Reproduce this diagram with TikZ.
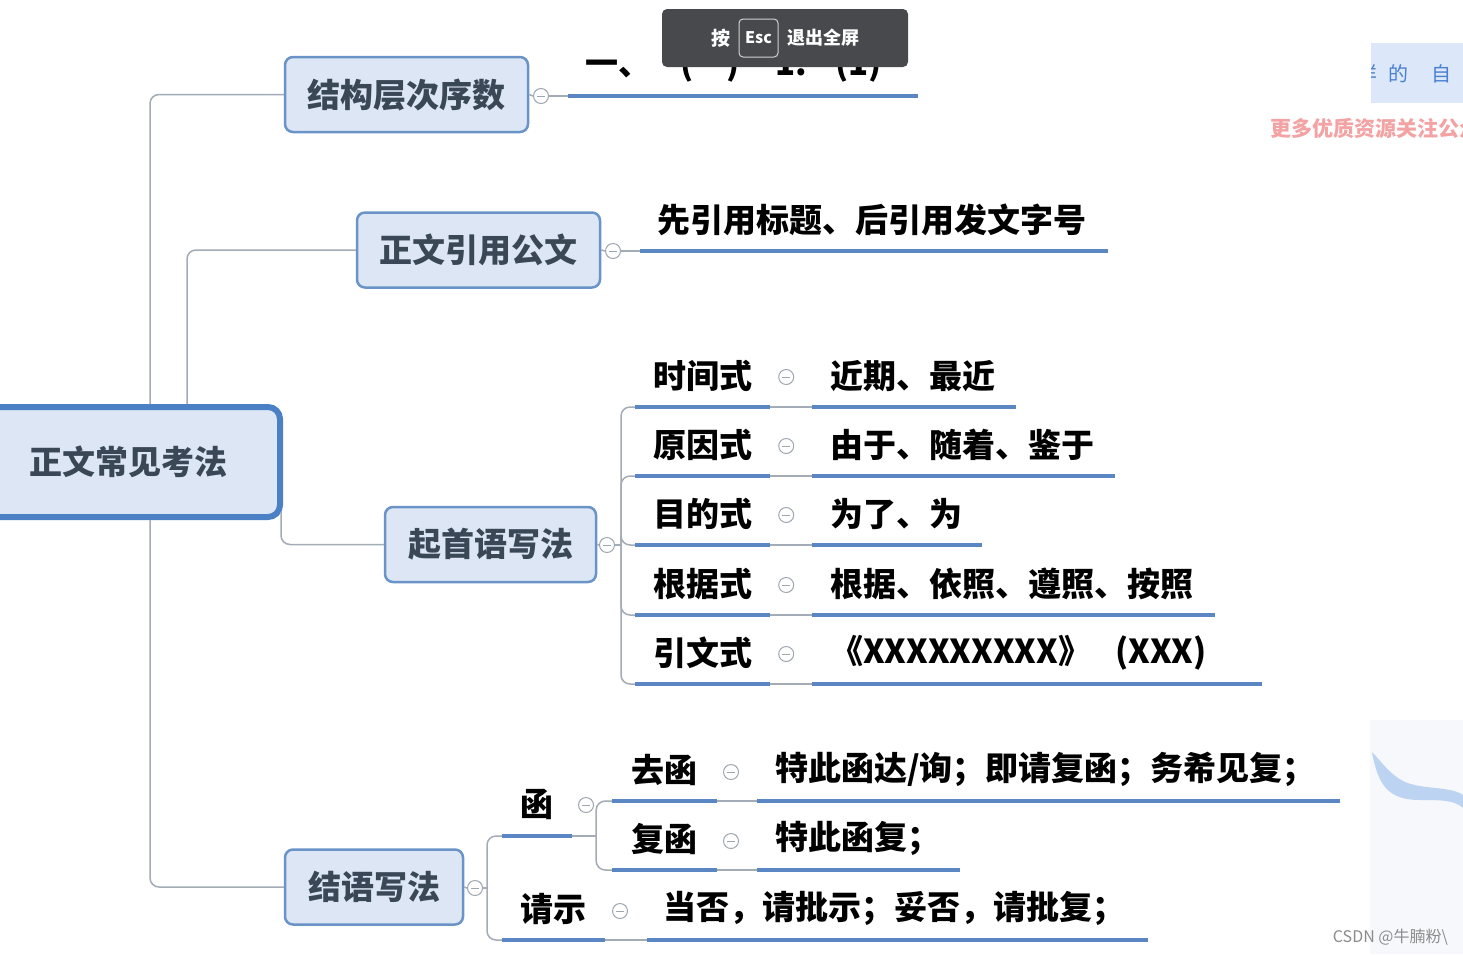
\documentclass[tikz,border=0pt]{standalone}
\usepackage{fontspec}
\setmainfont{Noto Sans CJK SC}
\newcommand\fsz[1]{\fontsize{#1}{#1}\selectfont}
\definecolor{boxfill}{HTML}{DCE6F4}
\definecolor{boxline}{HTML}{6A94C8}
\definecolor{rootline}{HTML}{4C80C4}
\definecolor{boxtext}{HTML}{3A4757}
\definecolor{ulc}{HTML}{5A86C3}
\definecolor{connc}{HTML}{A3ABB6}
\definecolor{foldc}{HTML}{9EA6B0}
\definecolor{escbg}{HTML}{47494D}
\definecolor{pinkc}{HTML}{F4A3A4}
\definecolor{tagbg}{HTML}{DCE8FA}
\definecolor{tagtx}{HTML}{4A80D0}
\definecolor{wavec}{HTML}{BDD3F2}
\definecolor{panelc}{HTML}{F6F8FC}
\tikzset{
  topicbox/.style={draw=boxline, fill=boxfill, line width=2.5pt, rounded corners=8pt, text=boxtext, inner sep=0pt, minimum height=75pt, font=\fsz{33}\bfseries},
  fold/.style={circle, draw=foldc, fill=white, line width=1pt, minimum size=15pt, inner sep=0pt,
    path picture={\draw[foldc, line width=1pt] ([xshift=-4pt]path picture bounding box.center) -- ([xshift=4pt]path picture bounding box.center);}},
  conn/.style={draw=connc, line width=1.5pt, rounded corners=9pt},
  uline/.style={draw=ulc, line width=4pt},
  lab/.style={anchor=south, inner sep=0pt, minimum height=62pt, text=black, font=\fsz{33}\bfseries},
  val/.style={anchor=south west, inner sep=0pt, minimum height=62pt, text width=#1, align=left, text=black, font=\fsz{33}\bfseries},
}
\begin{document}
\begin{tikzpicture}[x=1pt,y=-1pt]
\fill[white] (0,0) rectangle (1463,954);
\useasboundingbox (0,0) rectangle (1463,954);
% faint decoration bottom right
\fill[panelc] (1370,720) rectangle (1463,954);
\fill[wavec] (1372,752) .. controls (1378,785) and (1388,800) .. (1420,800)
  .. controls (1440,800) and (1455,800) .. (1463,808) -- (1463,795)
  .. controls (1450,786) and (1425,790) .. (1405,782)
  .. controls (1390,775) and (1380,760) .. (1372,752) -- cycle;

% root
\node[draw=rootline, fill=boxfill, line width=6pt, rounded corners=12pt, text=boxtext, inner sep=0pt,
  minimum width=304pt, minimum height=110pt, font=\fsz{33}\bfseries] (root) at (128,462) {正文常见考法};

% main topics
\node[topicbox, minimum width=243pt] (b1) at (406.5,94.5) {结构层次序数};
\node[topicbox, minimum width=243pt] (b2) at (478.5,250) {正文引用公文};
\node[topicbox, minimum width=211pt] (b3) at (490.5,544.5) {起首语写法};
\node[topicbox, minimum width=178pt] (b4) at (374,887) {结语写法};

\draw[conn] ([xshift=22pt]root.north) |- (b1.west);
\draw[conn] ([xshift=59pt]root.north) |- (b2.west);
\draw[conn] ([xshift=-2pt,yshift=8pt]root.south east) |- (b3.west);
\draw[conn] ([xshift=22pt]root.south) |- (b4.west);

% branch 1
\node[fold] (c1) at (541,96) {};
\node[val=350pt] (v0) at (568,96) {\hspace*{17pt}一、\hspace{29pt}(一)\hspace{36pt}1.\hspace{28pt}(1)};
\draw[conn] (b1.east) -- (c1.west);
\draw[conn] (c1.east) -- (v0.south west);
\draw[uline] (v0.south west) -- (v0.south east);

% branch 2
\node[fold] (c2) at (613,251) {};
\node[val=468pt] (v2) at (640,251) {\hspace*{17pt}先引用标题、后引用发文字号};
\draw[conn] (b2.east) -- (c2.west);
\draw[conn] (c2.east) -- (v2.south west);
\draw[uline] (v2.south west) -- (v2.south east);

% branch 3
\node[fold] (c3) at (607,545) {};
\draw[conn] (b3.east) -- (c3.west);
\coordinate (j3) at ([xshift=6pt]c3.east);
\draw[conn] (c3.east) -- (j3);
\foreach \i/\y/\w/\lt/\vt in {
  1/407/204pt/时间式/近期、最近,
  2/476/303pt/原因式/由于、随着、鉴于,
  3/545/170pt/目的式/为了、为,
  4/615/403pt/根据式/根据、依照、遵照、按照,
  5/684/450pt/引文式/《XXXXXXXXX》\hspace{24pt}(XXX)}{
  \node[lab, minimum width=135pt] (l\i) at (702.5,\y) {\lt};
  \node[val=\w] (v\i) at (812,\y) {\hspace*{18pt}\vt};
  \node[fold] (k\i) at ([xshift=16pt,yshift=30pt]l\i.south east) {};
  \draw[conn] (j3) |- (l\i.south west);
  \draw[conn] (l\i.south east) -- (v\i.south west);
  \draw[uline] (l\i.south west) -- (l\i.south east);
  \draw[uline] (v\i.south west) -- (v\i.south east);
}

% branch 4
\node[fold] (c4) at (475,888) {};
\draw[conn] (b4.east) -- (c4.west);
\coordinate (j4) at ([xshift=4pt]c4.east);
\draw[conn] (c4.east) -- (j4);
\node[lab, minimum width=70pt] (han) at (537,836) {函};
\node[fold] (khan) at (586,805) {};
\node[lab, minimum width=103pt] (qs) at (553.5,940) {请示};
\node[fold] (kqs) at (620,911) {};
\node[val=501pt] (vqs) at (647,940) {\hspace*{16pt}当否，请批示；妥否，请批复；};
\draw[conn] (j4) |- (han.south west);
\draw[conn] (j4) |- (qs.south west);
\draw[conn] (qs.south east) -- (vqs.south west);
\draw[uline] (han.south west) -- (han.south east);
\draw[uline] (qs.south west) -- (qs.south east);
\draw[uline] (vqs.south west) -- (vqs.south east);

\coordinate (jh) at ([xshift=24pt]han.south east);
\draw[conn] (han.south east) -- (jh);
\node[lab, minimum width=105pt] (qh) at (664.5,801) {去函};
\node[fold] (kqh) at (731,772) {};
\node[val=583pt] (vqh) at (757,801) {\hspace*{18pt}特此函达/询；即请复函；务希见复；};
\node[lab, minimum width=105pt] (fh) at (664.5,870) {复函};
\node[fold] (kfh) at (731,841) {};
\node[val=203pt] (vfh) at (757,870) {\hspace*{18pt}特此函复；};
\draw[conn] (jh) |- (qh.south west);
\draw[conn] (jh) |- (fh.south west);
\draw[conn] (qh.south east) -- (vqh.south west);
\draw[conn] (fh.south east) -- (vfh.south west);
\draw[uline] (qh.south west) -- (qh.south east);
\draw[uline] (vqh.south west) -- (vqh.south east);
\draw[uline] (fh.south west) -- (fh.south east);
\draw[uline] (vfh.south west) -- (vfh.south east);

% Esc overlay
\node[fill=escbg, rounded corners=5pt, minimum width=246pt, minimum height=58pt, inner sep=0pt] (esc) at (785,38) {};
\node[text=white, font=\fsz{19}\bfseries, inner sep=0pt] (an) at (721,38) {按};
\node[draw=white!75!escbg, line width=1pt, rounded corners=4pt, minimum width=39pt, minimum height=38pt, inner sep=0pt, text=white, font=\fsz{16}\bfseries] (key) at (758.5,38) {Esc};
\node[text=white, font=\fsz{18}\bfseries, inner sep=0pt] (quit) at (823,38) {退出全屏};

% top-right tag
\begin{scope}
\clip (1371,43) rectangle (1463,103);
\fill[tagbg] (1371,43) rectangle (1463,103);
\node[text=tagtx, font=\fsz{20}, inner sep=0pt] (t1) at (1367,74) {样};
\node[text=tagtx, font=\fsz{20}, inner sep=0pt] (t2) at (1398,74) {的};
\node[text=tagtx, font=\fsz{20}, inner sep=0pt] (t3) at (1441,74) {自};
\end{scope}
\begin{scope}
\clip (1250,105) rectangle (1463,150);
\node[anchor=west, text=pinkc, font=\fsz{21}\bfseries, inner sep=0pt] (pink) at (1270,128) {更多优质资源关注公众号};
\end{scope}

% watermark
\node[anchor=east, text=black!45, font=\fsz{16}, inner sep=0pt] (wm) at (1448,937) {CSDN @牛腩粉\textbackslash};
\end{tikzpicture}
\end{document}
